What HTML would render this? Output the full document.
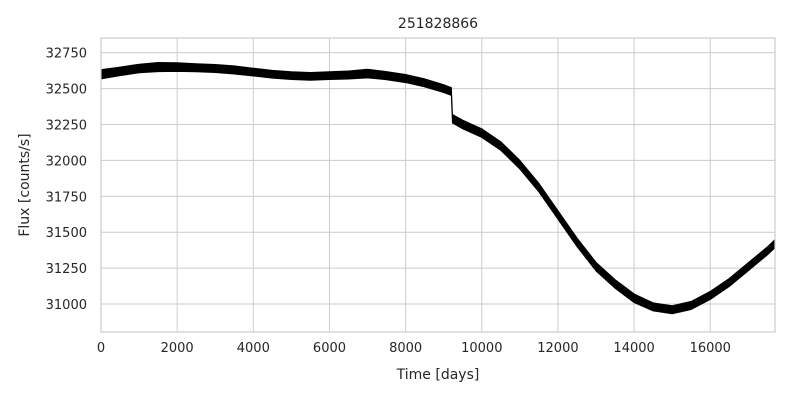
<!DOCTYPE html>
<html><head><meta charset="utf-8"><style>
body{margin:0;background:#fff;font-family:"DejaVu Sans","Liberation Sans",sans-serif;}
svg text{fill:#262626;font-family:"DejaVu Sans","Liberation Sans",sans-serif;}
</style></head><body>
<svg id="chart" width="800" height="400"></svg>
<script>
const times=[0,500,1000,1500,2000,2500,3000,3500,4000,4500,5000,5500,6000,6500,7000,7500,8000,8500,9000,9200,9230,9300,9500,10000,10500,11000,11500,12000,12500,13000,13500,14000,14500,15000,15500,16000,16500,17000,17500,17700];
const flux=[32600,32620,32640,32650,32650,32645,32640,32630,32615,32600,32590,32585,32590,32595,32605,32590,32570,32540,32500,32480,32290,32280,32250,32190,32100,31970,31810,31620,31430,31260,31140,31040,30980,30960,30990,31060,31150,31260,31370,31420];
const halfWidth=[32,30,30,32,30,28,28,28,27,27,27,27,27,28,30,28,28,28,27,27,30,30,30,30,30,30,30,30,30,30,30,30,28,28,28,28,28,28,28,28];
const xTicks=[0,2000,4000,6000,8000,10000,12000,14000,16000];
const yTicks=[31000,31250,31500,31750,32000,32250,32500,32750];
const NS="http://www.w3.org/2000/svg";
const svg=document.getElementById('chart');
const L=101,R=775,T=38,B=332;
const X=v=>L+(v-0)/(17700-0)*(R-L);
const Y=v=>304-(v-31000)/250*35.9;
function el(t,a){const e=document.createElementNS(NS,t);for(const k in a)e.setAttribute(k,a[k]);svg.appendChild(e);return e;}
let bg=el('rect',{x:L,y:T,width:R-L,height:B-T,fill:'#fff'});


xTicks.forEach(t=>{
 let g=el('line',{x1:X(t),x2:X(t),y1:T,y2:B,stroke:'#cccccc','stroke-width':1});
 
 
 let tx=el('text',{x:X(t),y:B+20,'text-anchor':'middle','font-size':13});
 tx.textContent=t;
 
 
});
yTicks.forEach(t=>{
 let g=el('line',{x1:L,x2:R,y1:Y(t),y2:Y(t),stroke:'#cccccc','stroke-width':1});
 
 
 let tx=el('text',{x:L-14,y:Y(t)+5,'text-anchor':'end','font-size':13});
 tx.textContent=t;
 
 
});
let pts=[];
times.forEach((t,i)=>pts.push(X(t)+','+Y(flux[i]+halfWidth[i])));
for(let i=times.length-1;i>=0;i--)pts.push(X(times[i])+','+Y(flux[i]-halfWidth[i]));
let band=el('polygon',{points:pts.join(' '),fill:'#000',stroke:'#000','stroke-width':1,'stroke-linejoin':'round'});


let fr=el('rect',{x:L,y:T,width:R-L,height:B-T,fill:'none',stroke:'#cccccc','stroke-width':1.2});


let ti=el('text',{x:(L+R)/2,y:28,'text-anchor':'middle','font-size':14});
ti.textContent='251828866';


let xl=el('text',{x:(L+R)/2,y:379,'text-anchor':'middle','font-size':14});
xl.textContent='Time [days]';


let yl=el('text',{x:0,y:0,'text-anchor':'middle','font-size':14,transform:'translate(29,'+((T+B)/2)+') rotate(-90)'});
yl.textContent='Flux [counts/s]';


</script>
</body></html>
